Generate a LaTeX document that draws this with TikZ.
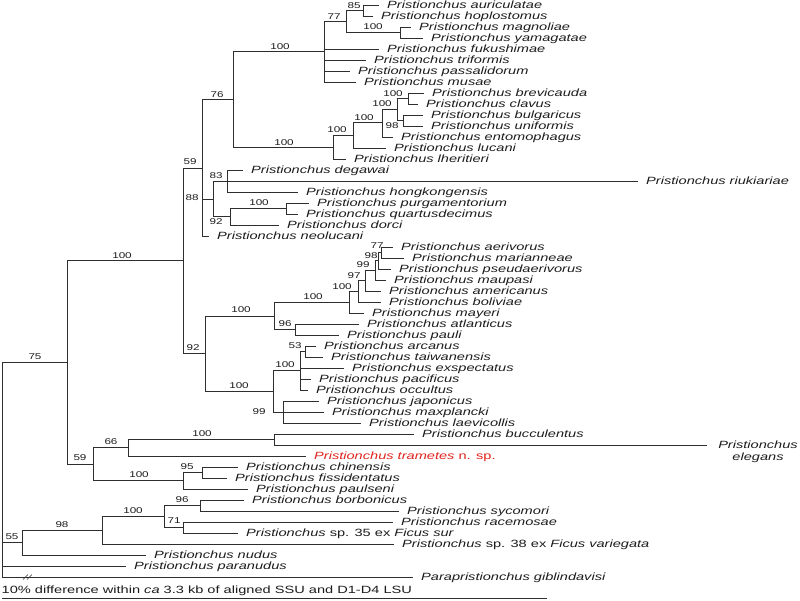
\documentclass[tikz,border=0pt]{standalone}
\usepackage{fontspec}
\setmainfont{Liberation Sans}[FakeStretch=1.39]
\usepackage{tikz}
\usetikzlibrary{positioning}
\definecolor{Branch}{HTML}{2E2E2E}
\definecolor{Ink}{HTML}{1C1C1C}
\definecolor{Novel}{HTML}{E0231C}
\newcommand{\tipfont}{\fontsize{10.5}{12.5}\selectfont\itshape}
\newcommand{\bootfont}{\fontsize{8.4}{10}\selectfont}
\tikzset{
treebranch/.style={draw=Branch, line width=0.8pt},
treetip/.style={anchor=west, inner xsep=8pt, inner ysep=0pt, text height=8.6pt, text depth=2pt, font=\tipfont, text=Ink},
treenew/.style={treetip, text=Novel},
treeboot/.style={inner sep=0pt, font=\bootfont, text=Ink},
scaletext/.style={anchor=west, inner sep=0pt, text height=8.6pt, text depth=2pt, font=\fontsize{10.5}{12.5}\selectfont, text=Ink},
scalebar/.style={draw=Branch, line width=1pt}
}

\begin{document}
\begin{tikzpicture}[x=1pt, y=-1pt]
  \useasboundingbox (0,0) rectangle (800,600);
  % internal nodes
  \coordinate (root) at (2,362.5);
  \coordinate (c75) at (67,362.5);
  \coordinate (cmain) at (183,260.8);
  \coordinate (c59) at (202,168);
  \coordinate (c76) at (233,99.5);
  \coordinate (cfuku) at (324,51.75);
  \coordinate (c77) at (346,21.5);
  \coordinate (c85) at (363,10.5);
  \coordinate (cmagn) at (400,32.5);
  \coordinate (clher) at (333,147);
  \coordinate (cluca) at (353,135);
  \coordinate (cento) at (382,122.5);
  \coordinate (cbrevbulg) at (397,109.5);
  \coordinate (cbrev) at (408,98.5);
  \coordinate (cbulg) at (403,120.5);
  \coordinate (c88) at (213,199);
  \coordinate (c83) at (227,181);
  \coordinate (cdorc) at (230,216.75);
  \coordinate (cpurg) at (286,208.5);
  \coordinate (c92) at (205,353.6);
  \coordinate (cmaupatla) at (274,315.9);
  \coordinate (cmaye) at (349,302.2);
  \coordinate (cboli) at (358,291.3);
  \coordinate (camer) at (365,280.7);
  \coordinate (cmaup) at (375,270.4);
  \coordinate (cpseu) at (378,260.75);
  \coordinate (caeri) at (381,252.5);
  \coordinate (catla) at (295,329.5);
  \coordinate (cpaci) at (273,391.4);
  \coordinate (cexsp) at (300,370.75);
  \coordinate (carca) at (305,351.5);
  \coordinate (cjapo) at (283,412);
  \coordinate (c59b) at (93,464.25);
  \coordinate (c66) at (128,447.75);
  \coordinate (cbucc) at (274,439.5);
  \coordinate (cpauls) at (183,480.75);
  \coordinate (cchin) at (202,472.5);
  \coordinate (c55) at (22,542.6);
  \coordinate (c98) at (102,530.25);
  \coordinate (cfig) at (164,516.5);
  \coordinate (cborb) at (200,505.5);
  \coordinate (crace) at (183,527.5);
  % tips
  \node[treetip] (auri) at (379,5) {Pristionchus auriculatae};
  \node[treetip] (hopl) at (373,16) {Pristionchus hoplostomus};
  \node[treetip] (magn) at (411,27) {Pristionchus magnoliae};
  \node[treetip] (yama) at (423,38) {Pristionchus yamagatae};
  \node[treetip] (fuku) at (379,49) {Pristionchus fukushimae};
  \node[treetip] (trif) at (366,60) {Pristionchus triformis};
  \node[treetip] (pass) at (350,71) {Pristionchus passalidorum};
  \node[treetip] (musa) at (356,82) {Pristionchus musae};
  \node[treetip] (brev) at (424,93) {Pristionchus brevicauda};
  \node[treetip] (clav) at (418,104) {Pristionchus clavus};
  \node[treetip] (bulg) at (423,115) {Pristionchus bulgaricus};
  \node[treetip] (unif) at (423,126) {Pristionchus uniformis};
  \node[treetip] (ento) at (393,137) {Pristionchus entomophagus};
  \node[treetip] (luca) at (386,148) {Pristionchus lucani};
  \node[treetip] (lher) at (346,159) {Pristionchus lheritieri};
  \node[treetip] (dega) at (243,170) {Pristionchus degawai};
  \node[treetip] (riuk) at (638,181) {Pristionchus riukiariae};
  \node[treetip] (hong) at (298,192) {Pristionchus hongkongensis};
  \node[treetip] (purg) at (309,203) {Pristionchus purgamentorium};
  \node[treetip] (quar) at (298,214) {Pristionchus quartusdecimus};
  \node[treetip] (dorc) at (279,225) {Pristionchus dorci};
  \node[treetip] (neol) at (209,236) {Pristionchus neolucani};
  \node[treetip] (aeri) at (393,247) {Pristionchus aerivorus};
  \node[treetip] (mari) at (404,258) {Pristionchus marianneae};
  \node[treetip] (pseu) at (391,269) {Pristionchus pseudaerivorus};
  \node[treetip] (maup) at (386,280) {Pristionchus maupasi};
  \node[treetip] (amer) at (381,291) {Pristionchus americanus};
  \node[treetip] (boli) at (381,302) {Pristionchus boliviae};
  \node[treetip] (maye) at (364,313) {Pristionchus mayeri};
  \node[treetip] (atla) at (359,324) {Pristionchus atlanticus};
  \node[treetip] (paul) at (339,335) {Pristionchus pauli};
  \node[treetip] (arca) at (316,346) {Pristionchus arcanus};
  \node[treetip] (taiw) at (323,357) {Pristionchus taiwanensis};
  \node[treetip] (exsp) at (344,368) {Pristionchus exspectatus};
  \node[treetip] (paci) at (311,379) {Pristionchus pacificus};
  \node[treetip] (occu) at (308,390) {Pristionchus occultus};
  \node[treetip] (japo) at (319,401) {Pristionchus japonicus};
  \node[treetip] (maxp) at (324,412) {Pristionchus maxplancki};
  \node[treetip] (laev) at (361,423) {Pristionchus laevicollis};
  \node[treetip] (bucc) at (414,434) {Pristionchus bucculentus};
  \coordinate (elegend) at (707,445);
  \node[treeboot, font=\tipfont, align=center, anchor=north] (eleg) at (758,440.6) {Pristionchus\\elegans};
  \node[treenew] (tram) at (306,456) {Pristionchus trametes \upshape n. sp.};
  \node[treetip] (chin) at (238,467) {Pristionchus chinensis};
  \node[treetip] (fiss) at (227,478) {Pristionchus fissidentatus};
  \node[treetip] (pauls) at (248,489) {Pristionchus paulseni};
  \node[treetip] (borb) at (244,500) {Pristionchus borbonicus};
  \node[treetip] (syco) at (399,511) {Pristionchus sycomori};
  \node[treetip] (race) at (393,522) {Pristionchus racemosae};
  \node[treetip] (sp35) at (238,533) {Pristionchus \textup{sp. 35 ex} Ficus sur};
  \node[treetip] (sp38) at (394,544) {Pristionchus \textup{sp. 38 ex} Ficus variegata};
  \node[treetip] (nudu) at (146,555) {Pristionchus nudus};
  \node[treetip] (para) at (126,566) {Pristionchus paranudus};
  \node[treetip] (gibl) at (413,577) {Parapristionchus giblindavisi};
  % branches
  \draw[treebranch] (root) |- (c75) (root) |- (c55) (root) |- (para.west) (root) |- (gibl.west);
  \draw[treebranch] (c75) |- (cmain) (c75) |- (c59b);
  \draw[treebranch] (cmain) |- (c59) (cmain) |- (c92);
  \draw[treebranch] (c59) |- (c76) (c59) |- (c88) (c59) |- (neol.west);
  \draw[treebranch] (c76) |- (cfuku) (c76) |- (clher);
  \draw[treebranch] (cfuku) |- (c77) (cfuku) |- (fuku.west) (cfuku) |- (trif.west) (cfuku) |- (pass.west) (cfuku) |- (musa.west);
  \draw[treebranch] (c77) |- (c85) (c77) |- (cmagn);
  \draw[treebranch] (c85) |- (auri.west) (c85) |- (hopl.west);
  \draw[treebranch] (cmagn) |- (magn.west) (cmagn) |- (yama.west);
  \draw[treebranch] (clher) |- (cluca) (clher) |- (lher.west);
  \draw[treebranch] (cluca) |- (cento) (cluca) |- (luca.west);
  \draw[treebranch] (cento) |- (cbrevbulg) (cento) |- (ento.west);
  \draw[treebranch] (cbrevbulg) |- (cbrev) (cbrevbulg) |- (cbulg);
  \draw[treebranch] (cbrev) |- (brev.west) (cbrev) |- (clav.west);
  \draw[treebranch] (cbulg) |- (bulg.west) (cbulg) |- (unif.west);
  \draw[treebranch] (c88) |- (c83) (c88) |- (cdorc);
  \draw[treebranch] (c83) |- (dega.west) (c83) |- (riuk.west) (c83) |- (hong.west);
  \draw[treebranch] (cdorc) |- (cpurg) (cdorc) |- (dorc.west);
  \draw[treebranch] (cpurg) |- (purg.west) (cpurg) |- (quar.west);
  \draw[treebranch] (c92) |- (cmaupatla) (c92) |- (cpaci);
  \draw[treebranch] (cmaupatla) |- (cmaye) (cmaupatla) |- (catla);
  \draw[treebranch] (cmaye) |- (cboli) (cmaye) |- (maye.west);
  \draw[treebranch] (cboli) |- (camer) (cboli) |- (boli.west);
  \draw[treebranch] (camer) |- (cmaup) (camer) |- (amer.west);
  \draw[treebranch] (cmaup) |- (cpseu) (cmaup) |- (maup.west);
  \draw[treebranch] (cpseu) |- (caeri) (cpseu) |- (pseu.west);
  \draw[treebranch] (caeri) |- (aeri.west) (caeri) |- (mari.west);
  \draw[treebranch] (catla) |- (atla.west) (catla) |- (paul.west);
  \draw[treebranch] (cpaci) |- (cexsp) (cpaci) |- (cjapo);
  \draw[treebranch] (cexsp) |- (carca) (cexsp) |- (exsp.west) (cexsp) |- (paci.west) (cexsp) |- (occu.west);
  \draw[treebranch] (carca) |- (arca.west) (carca) |- (taiw.west);
  \draw[treebranch] (cjapo) |- (japo.west) (cjapo) |- (maxp.west) (cjapo) |- (laev.west);
  \draw[treebranch] (c59b) |- (c66) (c59b) |- (cpauls);
  \draw[treebranch] (c66) |- (cbucc) (c66) |- (tram.west);
  \draw[treebranch] (cbucc) |- (bucc.west) (cbucc) |- (elegend);
  \draw[treebranch] (cpauls) |- (cchin) (cpauls) |- (pauls.west);
  \draw[treebranch] (cchin) |- (chin.west) (cchin) |- (fiss.west);
  \draw[treebranch] (c55) |- (c98) (c55) |- (nudu.west);
  \draw[treebranch] (c98) |- (cfig) (c98) |- (sp38.west);
  \draw[treebranch] (cfig) |- (cborb) (cfig) |- (crace);
  \draw[treebranch] (cborb) |- (borb.west) (cborb) |- (syco.west);
  \draw[treebranch] (crace) |- (race.west) (crace) |- (sp35.west);
  % support values
  \node[treeboot] (lc85) at (354,6) {85};
  \node[treeboot] (lc77) at (334,17) {77};
  \node[treeboot] (lcmagn) at (373,27) {100};
  \node[treeboot] (lcfuku) at (280,47) {100};
  \node[treeboot] (lc76) at (217,95) {76};
  \node[treeboot] (lcbrev) at (393,94) {100};
  \node[treeboot] (lcbrevbulg) at (382,104) {100};
  \node[treeboot] (lcbulg) at (392,126) {98};
  \node[treeboot] (lcento) at (364,118) {100};
  \node[treeboot] (lcluca) at (337,130) {100};
  \node[treeboot] (lclher) at (284,143) {100};
  \node[treeboot] (lc59) at (190,162) {59};
  \node[treeboot] (lc83) at (216,176) {83};
  \node[treeboot] (lc88) at (192,198) {88};
  \node[treeboot] (lcpurg) at (259,203) {100};
  \node[treeboot] (lcdorc) at (216,222) {92};
  \node[treeboot] (lcmain) at (122,256) {100};
  \node[treeboot] (lc75) at (35,357) {75};
  \node[treeboot] (lc92) at (193,348) {92};
  \node[treeboot] (lcmaupatla) at (241,310) {100};
  \node[treeboot] (lcmaye) at (313,297) {100};
  \node[treeboot] (lcatla) at (285,324) {96};
  \node[treeboot] (lcboli) at (342,287) {100};
  \node[treeboot] (lcamer) at (354,276) {97};
  \node[treeboot] (lcmaup) at (363,265) {99};
  \node[treeboot] (lcpseu) at (371,256) {98};
  \node[treeboot] (lcaeri) at (377,246) {77};
  \node[treeboot] (lcarca) at (295,346) {53};
  \node[treeboot] (lcexsp) at (285,365) {100};
  \node[treeboot] (lcpaci) at (239,386) {100};
  \node[treeboot] (lcjapo) at (259,412) {99};
  \node[treeboot] (lcbucc) at (202,434) {100};
  \node[treeboot] (lc66) at (111,442) {66};
  \node[treeboot] (lc59b) at (80,458) {59};
  \node[treeboot] (lcchin) at (187,467) {95};
  \node[treeboot] (lcpauls) at (139,475) {100};
  \node[treeboot] (lcborb) at (182,500) {96};
  \node[treeboot] (lcfig) at (133,511) {100};
  \node[treeboot] (lcrace) at (174,521) {71};
  \node[treeboot] (lc98) at (62,525) {98};
  \node[treeboot] (lc55) at (12,537) {55};
  % broken branch and scale
  \coordinate (brk) at (28,577);
  \draw[treebranch, line width=0.6pt] (brk) ++(-5,2.5) -- ++(5,-5) (brk) ++(-1,2.5) -- ++(5,-5);
  \node[scaletext] (scalenote) at (1.5,590) {10\% difference within \textit{ca} 3.3 kb of aligned SSU and D1-D4 LSU};
  \coordinate (scaleL) at (2,598);
  \coordinate (scaleR) at (547,598);
  \draw[scalebar] (scaleL) -- (scaleR);
\end{tikzpicture}
\end{document}
